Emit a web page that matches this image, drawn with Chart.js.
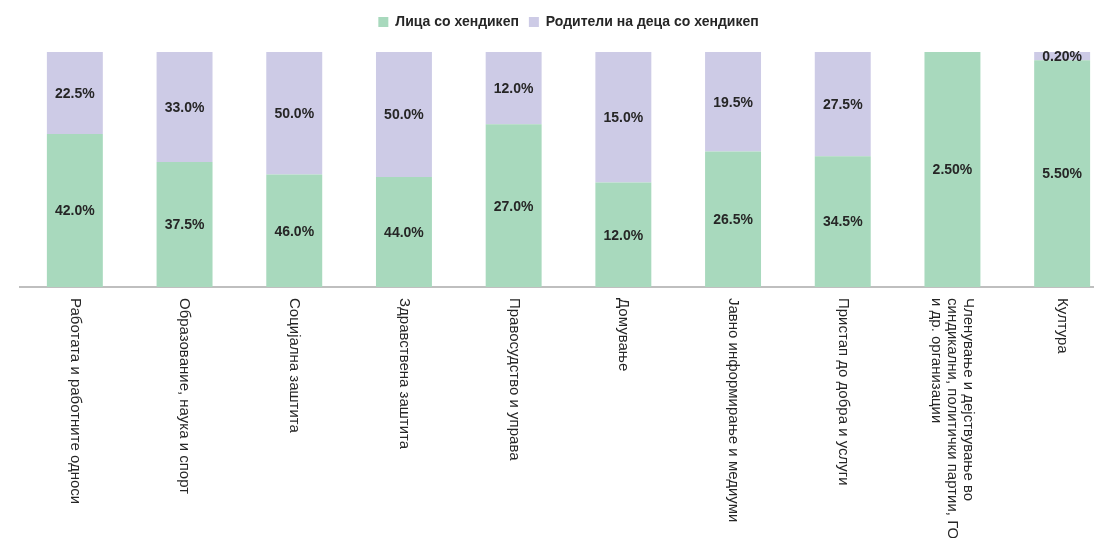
<!DOCTYPE html>
<html>
<head>
<meta charset="utf-8">
<script src="https://cdn.jsdelivr.net/npm/chart.js@4"></script>
<style>
  html, body { margin: 0; padding: 0; background: #fff; overflow: hidden; }
  #wrap { position: relative; width: 1118px; height: 538px; }
</style>
</head>
<body>
<div id="wrap"><canvas id="chart"></canvas></div>
<script>
// категории (x оска)
const categories = [
  ["Работата и работните односи"],
  ["Образование, наука и спорт"],
  ["Социјална заштита"],
  ["Здравствена заштита"],
  ["Правосудство и управа"],
  ["Домување"],
  ["Јавно информирање и медиуми"],
  ["Пристап до добра и услуги"],
  ["Членување и дејствување во", "синдикални, политички партии, ГО", "и др. организации"],
  ["Култура"]
];

const seriesNames = ["Лица со хендикеп", "Родители на деца со хендикеп"];

// вредности како што се напишани на столбовите (%)
const persons = [42.0, 37.5, 46.0, 44.0, 27.0, 12.0, 26.5, 34.5, 2.5, 5.5];
const parents = [22.5, 33.0, 50.0, 50.0, 12.0, 15.0, 19.5, 27.5, 0, 0.2];
const labelDecimals = [1, 1, 1, 1, 1, 1, 1, 1, 2, 2];

const colors = ["#a8d9bd", "#cdcbe6"];

// 100% наредени столбови
function share(arr, i) {
  const total = persons[i] + parents[i];
  return total ? arr[i] / total * 100 : 0;
}

const rawValues = [persons, parents];

const barLabels = {
  id: "barLabels",
  afterDatasetsDraw(chart) {
    const ctx = chart.ctx;
    ctx.save();
    ctx.font = "bold 14px 'Liberation Sans', Arial, sans-serif";
    ctx.fillStyle = "#262626";
    ctx.textAlign = "center";
    ctx.textBaseline = "middle";
    chart.data.datasets.forEach((ds, d) => {
      const meta = chart.getDatasetMeta(d);
      meta.data.forEach((bar, i) => {
        const v = rawValues[d][i];
        if (!v) return;
        const y = (bar.y + bar.base) / 2;
        ctx.fillText(v.toFixed(labelDecimals[i]) + "%", bar.x, y + 1);
      });
    });
    ctx.restore();
  }
};

// натписи на x оската, ротирани надесно (се читаат од горе кон долу)
const verticalTicks = {
  id: "verticalTicks",
  afterDraw(chart) {
    const ctx = chart.ctx;
    const xs = chart.scales.x;
    const top = chart.chartArea.bottom + 11;
    ctx.save();
    ctx.font = "15px 'Liberation Sans', Arial, sans-serif";
    ctx.fillStyle = "#262626";
    ctx.textAlign = "left";
    ctx.textBaseline = "middle";
    categories.forEach((lines, i) => {
      const x = xs.getPixelForValue(i);
      ctx.save();
      ctx.translate(x, top);
      ctx.rotate(Math.PI / 2);
      lines.forEach((line, k) => {
        ctx.fillText(line, 0, (k - (lines.length - 1) / 2) * 16);
      });
      ctx.restore();
    });
    ctx.restore();
  }
};

const legendSpacer = {
  id: "legendSpacer",
  beforeInit(chart) {
    const fit = chart.legend.fit;
    chart.legend.fit = function () {
      fit.bind(chart.legend)();
      this.height += 13;
    };
  }
};

new Chart(document.getElementById("chart"), {
  type: "bar",
  data: {
    labels: categories.map((c) => c.join(" ")),
    datasets: [
      {
        label: seriesNames[0],
        data: persons.map((v, i) => share(persons, i)),
        backgroundColor: colors[0],
        categoryPercentage: 1,
        barPercentage: 0.51
      },
      {
        label: seriesNames[1],
        data: parents.map((v, i) => share(parents, i)),
        backgroundColor: colors[1],
        categoryPercentage: 1,
        barPercentage: 0.51
      }
    ]
  },
  options: {
    responsive: true,
    maintainAspectRatio: false,
    animation: false,
    layout: {
      padding: { left: 20, right: 1, top: 5, bottom: 243 }
    },
    plugins: {
      legend: {
        position: "top",
        labels: {
          boxWidth: 10,
          boxHeight: 10,
          padding: 10,
          color: "#262626",
          font: { family: "'Liberation Sans', Arial, sans-serif", size: 14, weight: "bold" }
        }
      },
      tooltip: { enabled: false }
    },
    scales: {
      x: {
        stacked: true,
        grid: { display: false },
        border: { display: true, color: "#bfbfbf", width: 2 },
        ticks: { display: false }
      },
      y: {
        stacked: true,
        display: false,
        min: 0,
        max: 100
      }
    }
  },
  plugins: [barLabels, verticalTicks, legendSpacer]
});
</script>
</body>
</html>
